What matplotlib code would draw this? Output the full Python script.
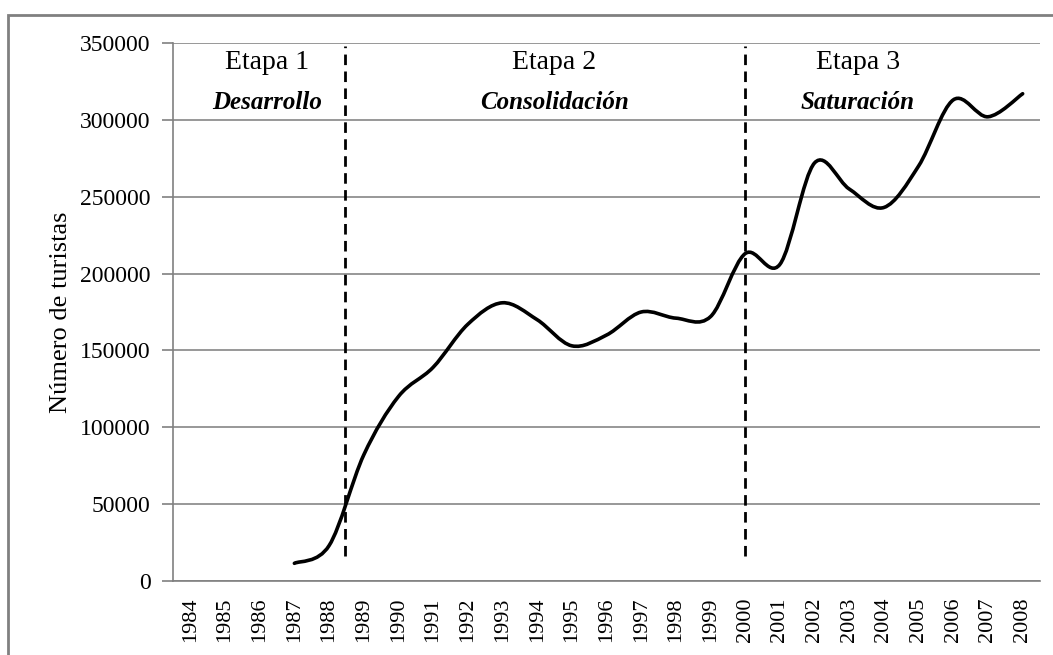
import numpy as np
import matplotlib
matplotlib.use('Agg')
import matplotlib.pyplot as plt
from matplotlib.path import Path
from matplotlib.patches import PathPatch, Rectangle

years = [str(y) for y in range(1984, 2009)]
turistas = [None, None, None, 11500, 23000, 82000, 120000, 139000, 167000, 181000,
            170000, 153000, 160000, 175000, 171000, 172000, 213000, 206000, 272000,
            255000, 243000, 270000, 313000, 302000, 317000]

etapas = ['Etapa 1', 'Etapa 2', 'Etapa 3']
nombres = ['Desarrollo', 'Consolidación', 'Saturación']
limites = [4.45, 16]

plt.rcParams['font.family'] = ['Liberation Serif', 'DejaVu Serif']

fig = plt.figure(figsize=(10.53, 6.55), dpi=100)
ax = fig.add_axes([173 / 1053, 1 - 581 / 655, 867 / 1053, 538 / 655])

# outer chart frame (cut at right and bottom like the original)
fig.patches.append(Rectangle((8 / 1053, -0.1), 1.2, 1.1 - 15 / 655, transform=fig.transFigure,
                             fill=False, edgecolor='#808080', linewidth=2, zorder=0))

# smoothed line through the points (bezier segments, like Excel smoothing)
pts = np.array([(i, v) for i, v in enumerate(turistas) if v is not None], dtype=float)
verts = [tuple(pts[0])]
codes = [Path.MOVETO]
n = len(pts)
for k in range(n - 1):
    p0 = pts[max(k - 1, 0)]
    p1 = pts[k]
    p2 = pts[k + 1]
    p3 = pts[min(k + 2, n - 1)]
    c1 = p1 + (p2 - p0) / 6
    c2 = p2 - (p3 - p1) / 6
    verts += [tuple(c1), tuple(c2), tuple(p2)]
    codes += [Path.CURVE4] * 3
ax.add_patch(PathPatch(Path(verts, codes), fill=False, edgecolor='black',
                       linewidth=2.6, capstyle='round', zorder=3))

for xl in limites:
    ax.plot([xl, xl], [16000, 348000], color='black', linewidth=2,
            dashes=(3.8, 2.3), zorder=4)

text_x = [2.2, 10.5, 19.25]
for x, e, nm in zip(text_x, etapas, nombres):
    ax.text(x, 337500, e, ha='center', va='center', fontsize=20)
    ax.text(x, 311500, nm, ha='center', va='center', fontsize=18,
            fontweight='bold', fontstyle='italic')

ax.set_xlim(-0.5, len(years) - 0.5)
ax.set_ylim(0, 350000)
ax.set_xticks(range(len(years)))
ax.set_xticklabels(years, rotation=90, fontsize=16)
ax.set_yticks(range(0, 350001, 50000))
ax.set_yticklabels([str(v) for v in range(0, 350001, 50000)], fontsize=17)
ax.tick_params(axis='x', length=0, pad=12)
ax.tick_params(axis='y', length=8, width=1.2, color='#808080', pad=8)
ax.set_ylabel('Número de turistas', fontsize=19, labelpad=6)

ax.grid(axis='y', color='#868686', linewidth=1.2)
ax.set_axisbelow(True)
for s in ['top', 'right']:
    ax.spines[s].set_visible(False)
for s in ['left', 'bottom']:
    ax.spines[s].set_color('#808080')
    ax.spines[s].set_linewidth(1.2)

fig.savefig('out.png', dpi=100)
